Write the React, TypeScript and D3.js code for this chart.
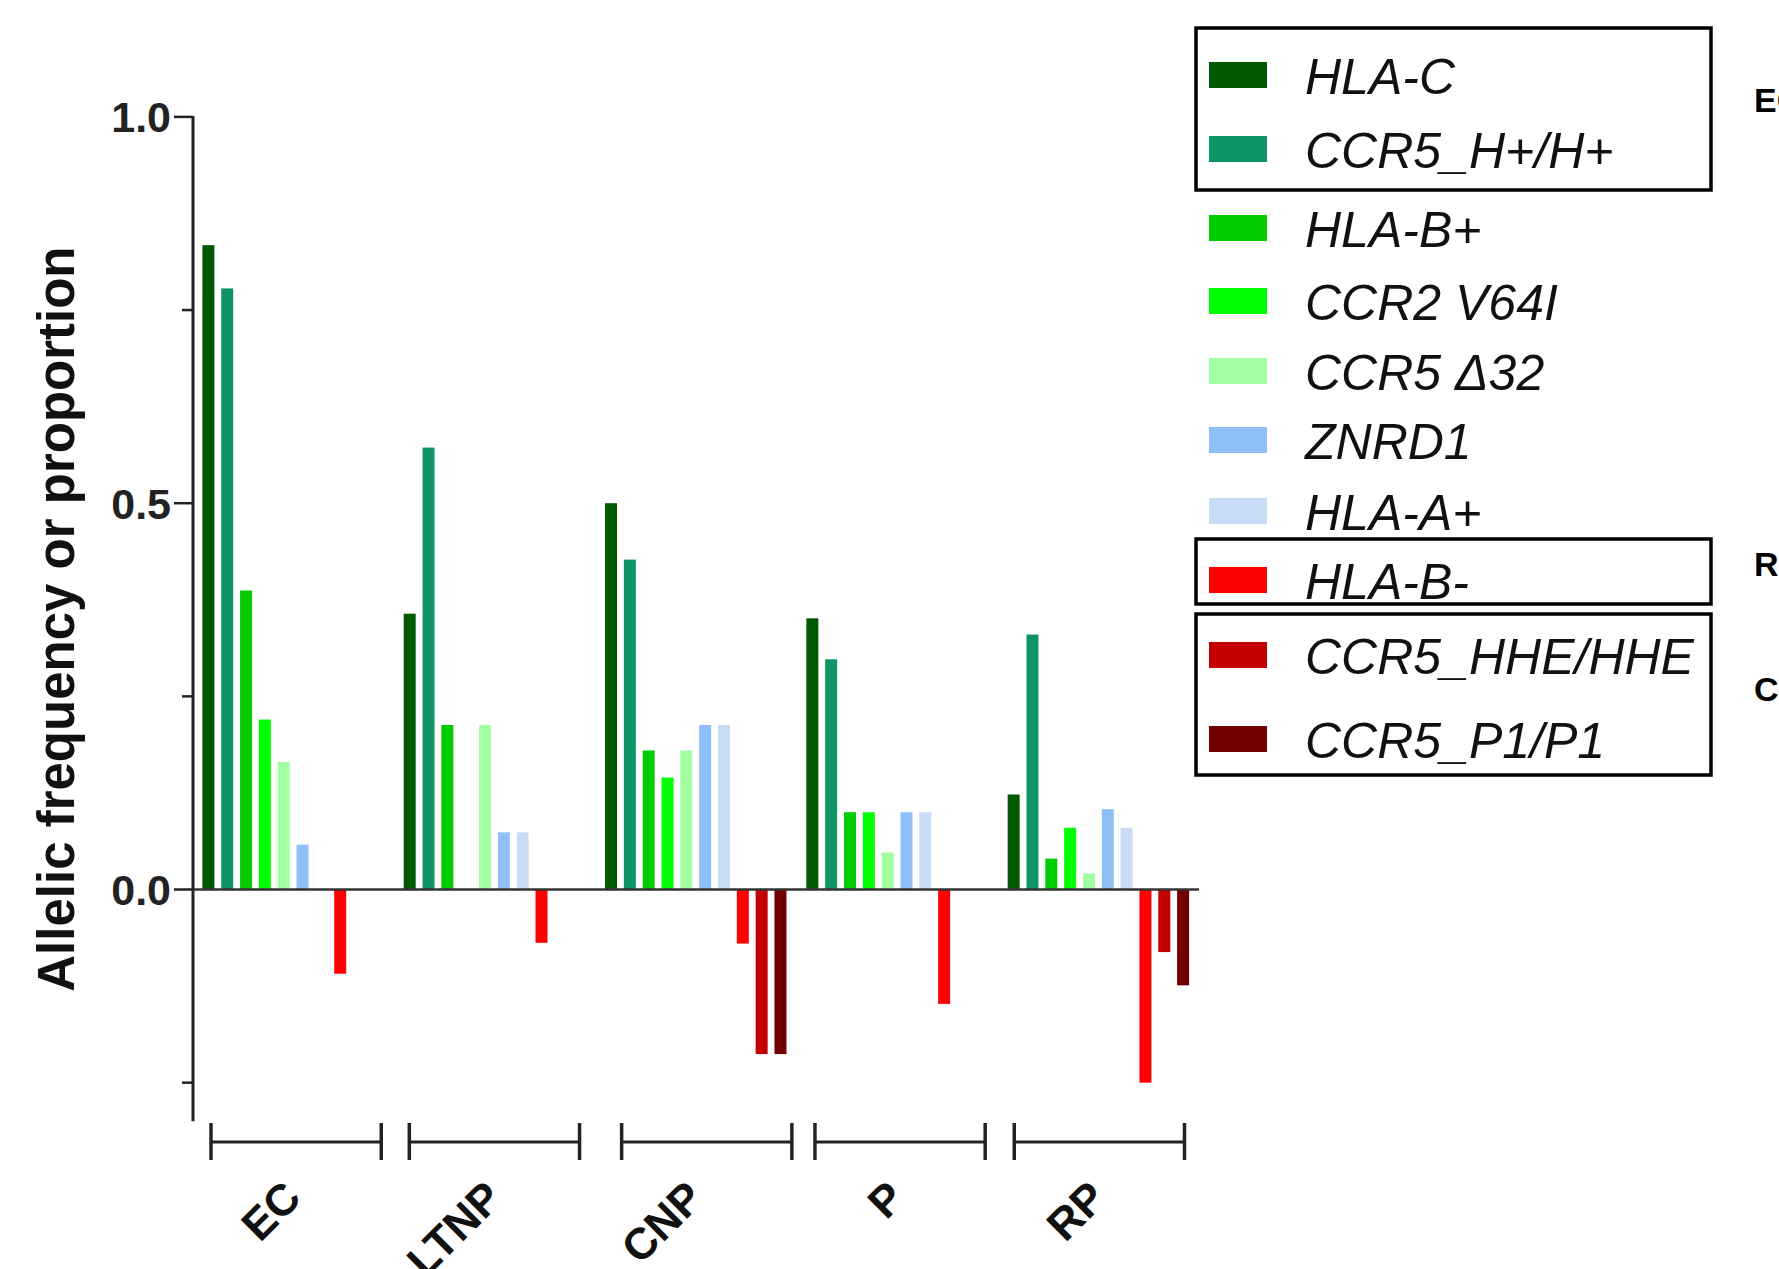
import { useMemo } from 'react';
import * as d3 from 'd3';

// data
const GROUPS = ['EC', 'LTNP', 'CNP', 'P', 'RP'];
const SERIES = ['HLA-C', 'CCR5_H+/H+', 'HLA-B+', 'CCR2 V64I', 'CCR5 Δ32', 'ZNRD1', 'HLA-A+', 'HLA-B-', 'CCR5_HHE/HHE', 'CCR5_P1/P1'];
const COLORS = ['#005900', '#0e9465', '#00cc00', '#00ff00', '#a2ffa2', '#8fbff7', '#c8dcf6', '#ff0000', '#c40000', '#730000'];

// values per series, in the order of GROUPS
const HLA_C = [0.834, 0.357, 0.5, 0.351, 0.123];
const CCR5_H = [0.778, 0.572, 0.427, 0.298, 0.33];
const HLA_B_POS = [0.387, 0.213, 0.18, 0.1, 0.04];
const CCR2_V64I = [0.22, 0, 0.145, 0.1, 0.08];
const CCR5_D32 = [0.165, 0.213, 0.18, 0.048, 0.021];
const ZNRD1 = [0.058, 0.074, 0.213, 0.1, 0.104];
const HLA_A_POS = [0, 0.074, 0.213, 0.1, 0.08];
const HLA_B_NEG = [-0.109, -0.069, -0.07, -0.148, -0.25];
const CCR5_HHE = [0, 0, -0.213, 0, -0.081];
const CCR5_P1 = [0, 0, -0.213, 0, -0.124];

const VALUES = [HLA_C, CCR5_H, HLA_B_POS, CCR2_V64I, CCR5_D32, ZNRD1, HLA_A_POS, HLA_B_NEG, CCR5_HHE, CCR5_P1];

const Y_LABELED = [0, 0.5, 1.0];
const Y_MINOR = [-0.25, 0.25, 0.75];

// boxed legend groups and the (cut off) label written at their right
const LEGEND_BOXES = [
  { label: 'EC', top: 28, bottom: 190, labelY: 112 },
  { label: 'RP', top: 539, bottom: 604, labelY: 576 },
  { label: 'CNP', top: 614, bottom: 775, labelY: 701 },
];

const W = 1779;
const H = 1269;
const AXIS_X = 193;
const LEGEND_ROW_Y = [75, 149, 228, 301, 371, 440, 511, 580, 655, 739];
// small hand nudges of the brackets below each group
const BRACKET_SHIFT = [0, -3, 8, 0, -2];

export default function App() {
  const y = useMemo(() => d3.scaleLinear().domain([-0.3, 1.0]).range([1121.3, 116.9]), []);
  const x0 = useMemo(
    () => d3.scaleBand<string>().domain(GROUPS).range([199, 1192.5]).paddingInner(0.065).paddingOuter(0),
    []
  );
  const x1 = useMemo(
    () => d3.scaleBand<string>().domain(SERIES).range([0, x0.bandwidth()]).paddingInner(0.363).paddingOuter(0.18),
    [x0]
  );

  const bars = GROUPS.flatMap((g, gi) =>
    SERIES.map((s, si) => ({ g, s, si, v: VALUES[si][gi] }))
  ).filter(d => d.v !== 0);

  const bracketY = 1142;
  const font = '"Liberation Sans", Arial, Helvetica, sans-serif';

  return (
    <div style={{ position: 'absolute', left: 0, top: 0, width: W, height: H, overflow: 'hidden', background: '#fff' }}>
      <svg width={W} height={H} style={{ display: 'block', fontFamily: font }}>
        <rect width={W} height={H} fill="#fff" />

        {/* bars */}
        {bars.map((d, i) => {
          const top = y(Math.max(0, d.v));
          const bottom = y(Math.min(0, d.v));
          return (
            <rect
              key={i}
              x={x0(d.g)! + x1(d.s)!}
              y={top}
              width={x1.bandwidth()}
              height={bottom - top}
              fill={COLORS[d.si]}
            />
          );
        })}

        {/* zero line */}
        <line x1={AXIS_X} x2={1199} y1={y(0)} y2={y(0)} stroke="#333" strokeWidth={2.5} />

        {/* y axis */}
        <line x1={AXIS_X} x2={AXIS_X} y1={y(1.0) - 1} y2={y(-0.3)} stroke="#222" strokeWidth={3} />
        {Y_LABELED.map(t => (
          <g key={t}>
            <line x1={AXIS_X - 19} x2={AXIS_X} y1={y(t)} y2={y(t)} stroke="#222" strokeWidth={2.5} />
            <text
              x={AXIS_X - 22}
              y={y(t)}
              dy="0.36em"
              textAnchor="end"
              fontSize={43}
              fontWeight="bold"
              fill="#222"
            >
              {t.toFixed(1)}
            </text>
          </g>
        ))}
        {Y_MINOR.map(t => (
          <line key={t} x1={AXIS_X - 11} x2={AXIS_X} y1={y(t)} y2={y(t)} stroke="#222" strokeWidth={2.5} />
        ))}

        {/* y title */}
        <text
          transform={`translate(74, ${(y(1.0) + y(-0.3)) / 2}) rotate(-90)`}
          textAnchor="middle"
          fontSize={51}
          fontWeight="bold"
          fill="#111"
        >
          Allelic frequency or proportion
        </text>

        {/* group brackets and labels */}
        {GROUPS.map((g, gi) => {
          const a = x0(g)! + 12 + BRACKET_SHIFT[gi];
          const b = x0(g)! + x0.bandwidth() - 6 + BRACKET_SHIFT[gi];
          const cx = x0(g)! + x0.bandwidth() / 2;
          return (
            <g key={g}>
              <line x1={a} x2={b} y1={bracketY} y2={bracketY} stroke="#222" strokeWidth={3} />
              <line x1={a} x2={a} y1={bracketY - 19} y2={bracketY + 18} stroke="#222" strokeWidth={3.5} />
              <line x1={b} x2={b} y1={bracketY - 19} y2={bracketY + 18} stroke="#222" strokeWidth={3.5} />
              <text
                transform={`translate(${cx + 10}, 1200) rotate(-45)`}
                textAnchor="end"
                fontSize={44}
                fontWeight="bold"
                fill="#111"
              >
                {g}
              </text>
            </g>
          );
        })}

        {/* legend */}
        {SERIES.map((s, i) => (
          <g key={s}>
            <rect x={1209} y={LEGEND_ROW_Y[i] - 13} width={58} height={26} fill={COLORS[i]} />
            <text x={1305} y={LEGEND_ROW_Y[i] + 19} fontSize={50} fontStyle="italic" fill="#111">
              {s}
            </text>
          </g>
        ))}
        {LEGEND_BOXES.map(b => (
          <g key={b.label}>
            <rect x={1196} y={b.top} width={515} height={b.bottom - b.top} fill="none" stroke="#000" strokeWidth={3.5} />
            <text x={1754} y={b.labelY} fontSize={34} fontWeight="bold" fill="#000">
              {b.label}
            </text>
          </g>
        ))}
      </svg>
    </div>
  );
}
